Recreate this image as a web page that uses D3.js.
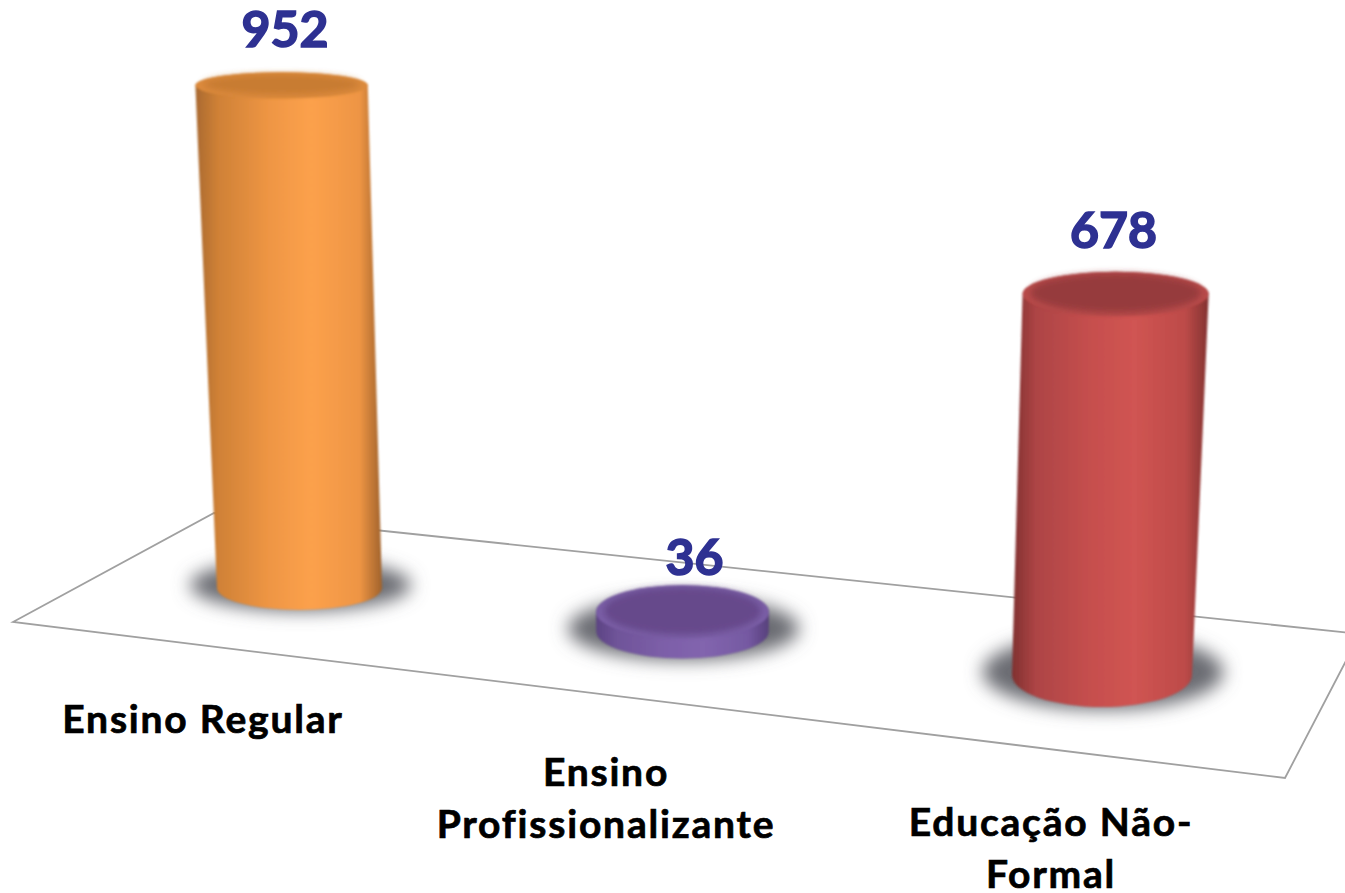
<!DOCTYPE html>
<html><head><meta charset="utf-8">
<script src="https://cdn.jsdelivr.net/npm/d3@7"></script>
<style>html,body{margin:0;padding:0;background:#fff}svg{display:block}text{font-family:Lato,"Open Sans",sans-serif;font-weight:700}</style>
</head><body><div id="c"></div>
<script>
const categories = ["Ensino Regular", "Ensino Profissionalizante", "Educação Não-Formal"];
const values = [952, 36, 678];
const categoryLines = [["Ensino Regular"], ["Ensino", "Profissionalizante"], ["Educação Não-", "Formal"]];
const sideStops = [
  ["#a9692f", "#cf8136", "#ef9644", "#fca14c", "#ee9544", "#a0622c"],
  ["#5c4383", "#6f5499", "#7d5fa9", "#8265ae", "#7559a2", "#57407c"],
  ["#803130", "#ad4445", "#c64f4e", "#d05452", "#bd4b49", "#823230"]
];
const faceColors = ["#c87b33", "#66498b", "#963b3c"];
const rimColors = ["#dc8a3c", "#7a5ea6", "#b84a49"];

const W = 1345, H = 893;
const svg = d3.select("#c").append("svg").attr("width", W).attr("height", H);
const defs = svg.append("defs");
defs.append("filter").attr("id", "blur").attr("x", "-30%").attr("y", "-50%").attr("width", "160%").attr("height", "200%")
  .append("feGaussianBlur").attr("stdDeviation", 9);
defs.append("filter").attr("id", "soft").attr("x", "-10%").attr("y", "-10%").attr("width", "120%").attr("height", "120%")
  .append("feGaussianBlur").attr("stdDeviation", 0.8);
defs.append("filter").attr("id", "faceBlur").attr("x", "-10%").attr("y", "-30%").attr("width", "120%").attr("height", "160%")
  .append("feGaussianBlur").attr("stdDeviation", 3);

const index = d3.scalePoint().domain(categories).range([0, 2]);
const baseX = d3.scaleOrdinal().domain(categories).range([299.5, 682.5, 1102]);
const baseY = d3.scaleLinear().domain([0, 2]).range([588, 675]);
const baseW = d3.scaleLinear().domain([0, 2]).range([165, 180]);
const baseRy = d3.scaleLinear().domain([0, 2]).range([22, 32]);
const unit = d3.scaleLinear().domain([0, 2]).range([0.528, 0.562]);
const labelX = d3.scaleOrdinal().domain(categories).range([203, 606, 1051]);
const labelY = d3.scaleOrdinal().domain(categories).range([733, 786, 836]);
const valueDx = d3.scaleOrdinal().domain(categories).range([3.5, 12, -2]);
const valueDy = d3.scaleOrdinal().domain(categories).range([-25, -10, -24]);
const vanishX = 700, spread = 8.9e-5, squash = 0.0008;

const geom = categories.map((c, i) => {
  const t = index(c), h = values[i] * unit(t);
  const xb = baseX(c), yb = baseY(t), wb = baseW(t), ryb = baseRy(t);
  return { c, i, h, xb, yb, wb, ryb,
    xt: xb + (xb - vanishX) * spread * h,
    yt: yb - h,
    wt: wb * (1 + spread * h),
    ryt: ryb * (1 - squash * h) };
});

geom.forEach(g => {
  const lg = defs.append("linearGradient").attr("id", "side" + g.i).attr("x1", 0).attr("x2", 1).attr("y1", 0).attr("y2", 0);
  [0, .12, .4, .62, .88, 1].forEach((o, k) => lg.append("stop").attr("offset", o).attr("stop-color", sideStops[g.i][k]));
});

const floorPts = [[13, 622], [214, 513], [1360, 634], [1285, 778]];
svg.append("path").attr("d", d3.line().curve(d3.curveLinearClosed)(floorPts))
  .attr("fill", "#fff").attr("stroke", "#a0a0a0").attr("stroke-width", 1.8);

svg.append("g").selectAll("ellipse").data(geom).join("ellipse")
  .attr("cx", d => d.xb + 1)
  .attr("cy", d => d.yb - 3)
  .attr("rx", d => d.wb * 0.67)
  .attr("ry", d => d.ryb * 1.18)
  .attr("fill", "#6a6c72").attr("filter", "url(#blur)");

const side = d =>
  `M${d.xt - d.wt / 2},${d.yt} L${d.xb - d.wb / 2},${d.yb} ` +
  `A${d.wb / 2},${d.ryb} 0 0 0 ${d.xb + d.wb / 2},${d.yb} ` +
  `L${d.xt + d.wt / 2},${d.yt} ` +
  `A${d.wt / 2},${d.ryt} 0 0 0 ${d.xt - d.wt / 2},${d.yt} Z`;
const bars = svg.append("g").selectAll("g").data(geom).join("g").attr("filter", "url(#soft)");
bars.append("path").attr("d", side).attr("fill", d => `url(#side${d.i})`);
bars.append("ellipse").attr("cx", d => d.xt).attr("cy", d => d.yt)
  .attr("rx", d => d.wt / 2).attr("ry", d => d.ryt)
  .attr("fill", d => rimColors[d.i]);
bars.append("ellipse").attr("cx", d => d.xt).attr("cy", d => d.yt - 1)
  .attr("rx", d => d.wt / 2 - 8).attr("ry", d => d.ryt - 3)
  .attr("fill", d => faceColors[d.i]).attr("filter", "url(#faceBlur)");

svg.append("g").selectAll("text").data(geom).join("text")
  .attr("x", d => d.xt + valueDx(d.c))
  .attr("y", d => d.yt - d.ryt + valueDy(d.c))
  .attr("text-anchor", "middle").attr("font-size", 50).attr("fill", "#2e3192")
  .attr("stroke", "#2e3192").attr("stroke-width", 1.6)
  .text(d => values[d.i]);

const cat = svg.append("g").selectAll("text").data(categories).join("text")
  .attr("text-anchor", "middle").attr("font-size", 39).attr("letter-spacing", 1.8)
  .attr("fill", "#000").attr("stroke", "#000").attr("stroke-width", 0.7);
cat.each(function (c, i) {
  d3.select(this).selectAll("tspan").data(categoryLines[i]).join("tspan")
    .attr("x", labelX(c)).attr("y", (l, k) => labelY(c) + k * 52).text(l => l);
});
</script></body></html>
